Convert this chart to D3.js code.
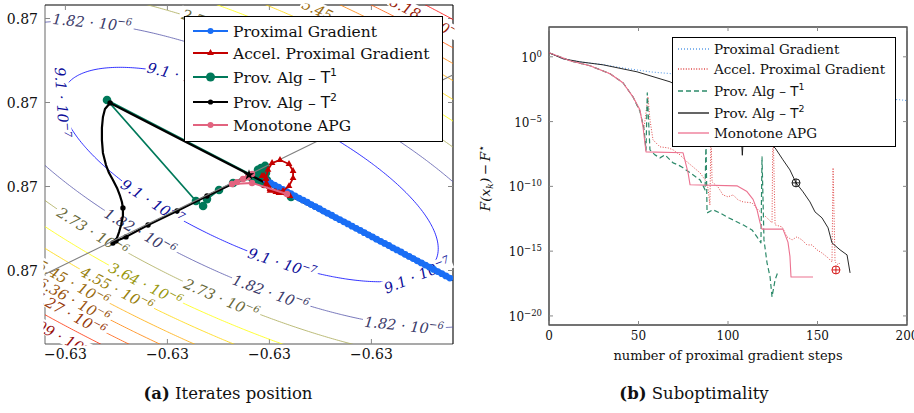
<!DOCTYPE html>
<html>
<head>
<meta charset="utf-8">
<script src="https://cdn.jsdelivr.net/npm/d3@7/dist/d3.min.js"></script>
<style>
  html,body{margin:0;padding:0;background:#fff;}
  text{font-family:"DejaVu Serif",serif;fill:#111;}
</style>
</head>
<body>
<svg id="chart" width="914" height="413" xmlns="http://www.w3.org/2000/svg"></svg>
<script>
// ================= DATA : panel (a) — coordinates are offsets in units of 1e-6 =================
const xBase = -0.6305, yBase = 0.87, unit = 1e-6;
const xTicksA = [10, 60, 110, 160];
const yTicksA = [35, 75, 115, 155];
const contourLevels = [9.1e-7, 1.82e-6, 2.73e-6, 3.64e-6, 4.55e-6, 5.45e-6, 6.36e-6, 7.27e-6, 8.18e-6, 9.09e-6];
// quadratic objective: centre, Hessian entries (a, b, c), minimum value
const objCenter = [100.5, 80.7];
const objHess = [1.966e-10, 2.456e-10, 6.421e-10];
const objMin = 3.6e-8;
// contour label anchors (level index, approx x, approx y)
const labelLevel = [0, 0, 0, 0, 0, 1, 1, 1, 1, 2, 2, 2, 3, 4, 5, 5, 6, 7, 8, 9];
const labelX = [65.2, 3.9, 50.5, 116.7, 185.8, 19.1, 46.6, 110.8, 180.4, 23.0, 86.3, 85.3, 48.5, 34.8, 8.3, 146.0, 7.4, 3.4, 190.5, 4.9];
const labelY = [130.5, 116.7, 67.1, 36.7, 30.5, 156.7, 53.3, 22.9, 4.3, 53.3, 21.0, 152.9, 27.6, 25.7, 25.7, 157.5, 16.2, 8.1, 158.0, 1.4];

// iterates
const grayX = [-5, 205], grayY = [30.9, 130.5];
const pgAX = [198.5,196.5,194.5,192.5,190.5,188.5,186.5,184.5,182.5,180.5,178.5,176.5,174.5,172.5,170.5,168.5,166.5,164.5,162.5,160.5,158.5,156.5,154.5,152.5,150.5,148.5,146.5,144.5,142.5,140.5,138.5,136.5,134.5,132.5,130.5,128.5,126.5,124.5,122.5,120.5,118.5,116.5,114.5,112.5,110.5,108.5];
const pgAY = [31.4,32.4,33.5,34.5,35.5,36.6,37.6,38.6,39.6,40.7,41.7,42.7,43.8,44.8,45.8,46.9,47.9,48.9,49.9,51.0,52.0,53.0,54.1,55.1,56.1,57.2,58.2,59.2,60.2,61.3,62.3,63.3,64.4,65.4,66.4,67.5,68.5,69.5,70.5,71.6,72.6,73.6,74.7,75.7,76.7,77.8];
const apgAX = [120.1,114.7,110.3,107.8,108.3,109.3,111.3,115.2,119.6,121.6,121.6,119.6,116.7,113.2,110.3,108.8,108.3,107.4,106.4];
const apgAY = [70.5,71.9,72.9,75.2,79.0,82.9,86.2,87.6,85.7,82.4,79.0,75.2,72.9,72.4,73.8,76.2,78.6,80.0,80.0];
const t1AX = [232.8,30.4,74.0,77.5,79.4,85.3,92.2,101.5,104.4,108.3,107.4,103.9,105.9,108.8,106.4,105.4,104.9,107.9,106.9,120.6];
const t1AY = [14.3,116.2,68.1,65.7,69.0,73.3,76.7,79.0,82.9,81.4,76.2,78.1,83.8,78.1,80.0,77.6,80.9,84.8,79.5,70.0];
const t2AX = [232.8,31.9,29.4,28.4,27.9,27.9,28.4,29.9,31.4,33.3,35.3,36.8,37.7,38.2,38.2,37.3,36.3,35.3,33.3,34.8,39.7,50.5,64.7,79.4,90.7,100.0];
const t2AY = [14.3,114.8,111.9,108.1,102.9,97.1,91.0,85.2,81.4,78.1,74.3,70.5,67.6,64.8,61.0,56.7,53.3,50.5,48.1,49.0,51.0,56.7,63.3,70.5,75.7,80.5];
const t2AMark = [0,1,0,0,0,0,0,0,0,0,0,0,0,1,0,0,0,0,1,1,1,1,1,1,0,0];
const mapgAX = [118.6,101.5,91.7,94.1,97.1,99.5,101.5];
const mapgAY = [71.4,76.7,76.2,77.1,78.6,79.5,81.0];
const optimumA = [100.0, 80.5];

// ================= DATA : panel (b) — y values are log10 of F(x_k) - F* =================
const xTicksB = [0, 50, 100, 150, 200];
const yTickExpB = [0, -5, -10, -15, -20];
const pgK = [0,3.9,7.8,17.3,30.2,40.8,56.4,68.7,112,157,196,205];
const pgV = [0.31,0.08,-0.15,-0.39,-0.6,-0.85,-1.16,-1.31,-2.2,-2.9,-3.32,-3.45];
const apgK = [0,6.1,11.7,22.9,34.1,41.3,46.9,50.8,53.1,55.3,56.4,58.1,62.0,66.5,69.3,73.2,77.1,80.4,84.4,87.2,88.8,89.9,90.5,91.1,94.4,97.2,100,102.8,105.6,108.4,113.4,116.8,121.8,124.6,125.1,126.3,130.2,133,135.8,138.5,141.3,144.1,146.9,149.7,152.5,155.9,158.1,158.7,159.8,161.5,162.5];
const apgV = [0.31,0,-0.31,-0.69,-1.31,-2.0,-3.09,-4.2,-5.5,-3.09,-4.86,-6.41,-6.95,-7.03,-7.18,-7.57,-8.11,-8.49,-8.96,-9.5,-10.12,-11.43,-5.64,-9.65,-10.04,-10.66,-10.81,-10.66,-11.04,-11.2,-11.27,-11.81,-12.43,-12.82,-4.86,-12.97,-13.13,-13.9,-14.13,-13.9,-14.13,-14.52,-14.52,-14.9,-15.14,-15.52,-15.83,-8.57,-15.83,-16.06,-15.9];
const t1K = [0,6.1,11.7,22.9,34.1,41.3,46.9,50.8,53.1,54.2,54.9,56.4,59.2,62.0,64.8,69.3,72.1,74.9,80.4,84.4,87.2,87.7,88.3,91.6,95.5,99.4,102.8,108.4,113.4,116.2,118.4,119.0,120.1,121.8,123.5,124.6,126.3,127.9];
const t1V = [0.31,0,-0.31,-0.69,-1.31,-2.0,-3.09,-4.2,-5.6,-7.2,-2.78,-7.18,-7.57,-7.8,-7.57,-8.19,-8.34,-8.57,-9.11,-9.5,-10.27,-6.41,-12.05,-11.81,-12.05,-12.36,-12.59,-12.97,-13.36,-13.9,-14.36,-7.72,-14.13,-15.9,-16.99,-18.53,-17.22,-16.6];
const t2K = [0,3.9,7.8,17.3,30.2,49.2,67.6,80,95,107,108,109,118,124,126.3,130.7,134.6,138.0,141.9,145.8,148.6,152.5,155.9,158.1,162.6,166.5,168.2];
const t2V = [0.31,0.08,-0.15,-0.39,-0.62,-1.16,-1.93,-2.8,-3.9,-5.0,-7.6,-5.2,-6.2,-6.8,-7.03,-7.95,-8.73,-9.73,-10.42,-11.2,-11.97,-12.43,-13.2,-14.36,-14.9,-15.29,-16.68];
const mapgK = [0,6.1,11.7,22.9,34.1,41.3,46.9,50.8,52.5,54.2,74.9,77.7,78.8,105,110.6,114,116.2,117.9,119,130.7,133.5,134.6,135.2,147.5];
const mapgV = [0.31,0,-0.31,-0.69,-1.31,-2.0,-3.09,-4.09,-5.4,-7.34,-7.41,-8.96,-9.88,-9.96,-10.4,-11.0,-11.8,-12.8,-13.3,-13.3,-14.3,-15.4,-17.0,-17.0];
const plusMarkK = [138.0, 160.3];
const plusMarkV = [-9.73, -16.45];

const seriesNames = ["Proximal Gradient", "Accel. Proximal Gradient", "Prov. Alg \u2013 ", "Prov. Alg \u2013 ", "Monotone APG"];

// ================= STYLE =================
const SERIF = "'DejaVu Serif', serif", SANS = "'DejaVu Sans', sans-serif";
const colA = {pg:"#1a6ef5", apg:"#c40000", t1:"#00795a", t2:"#000000", mapg:"#e2637f"};
const colB = {pg:"#5d9ee8", apg:"#e04a4a", t1:"#2d8a6a", t2:"#111111", mapg:"#ec7290"};
const hot = d3.scaleLinear().domain([0, 1/3, 2/3, 1]).range(["#0000ff", "#ffff00", "#ff8000", "#ff0000"]);
const levelColor = i => hot(i / (contourLevels.length - 1));
const labelColor = i => d3.interpolateRgb(levelColor(i), "#1a1a1a")(0.45);

const svg = d3.select("#chart");
const defs = svg.append("defs");
const zip = (a, b) => a.slice(0, Math.min(a.length, b.length)).map((v, i) => [v, b[i]]);
const txt = (sel) => sel.append("text").attr("font-family", SERIF);

// ================= PANEL (a) =================
const xA = d3.scaleLinear().domain([0, 200]).range([45, 453]);
const yA = d3.scaleLinear().domain([0, 161.43]).range([344, 5]);
const [ax0, ax1] = xA.range(), [ayB, ayT] = yA.range();
defs.append("clipPath").attr("id", "clipA").append("rect")
  .attr("x", ax0).attr("y", ayT).attr("width", ax1 - ax0).attr("height", ayB - ayT);
defs.append("clipPath").attr("id", "clipA2").append("rect")
  .attr("x", ax0 - 1.5).attr("y", ayT - 1.5).attr("width", ax1 - ax0 + 3).attr("height", ayB - ayT + 3);

const gA = svg.append("g");
gA.append("line").attr("x1", ax0).attr("x2", ax0).attr("y1", ayB).attr("y2", ayT).attr("stroke", "#808080").attr("stroke-width", 1.2);
gA.append("line").attr("x1", ax0).attr("x2", ax1).attr("y1", ayB).attr("y2", ayB).attr("stroke", "#555").attr("stroke-width", 1.2);
gA.append("line").attr("x1", ax0).attr("x2", ax1).attr("y1", ayT).attr("y2", ayT).attr("stroke", "#000").attr("stroke-width", 1.1);
gA.append("line").attr("x1", ax1).attr("x2", ax1).attr("y1", ayB).attr("y2", ayT).attr("stroke", "#000").attr("stroke-width", 1.1);
xTicksA.forEach(v => {
  gA.append("line").attr("x1", xA(v)).attr("x2", xA(v)).attr("y1", ayB).attr("y2", ayB - 5).attr("stroke", "#888");
  gA.append("line").attr("x1", xA(v)).attr("x2", xA(v)).attr("y1", ayT).attr("y2", ayT + 5).attr("stroke", "#888");
  txt(gA).attr("x", xA(v)).attr("y", 359).attr("text-anchor", "middle").attr("font-size", 14)
    .text(d3.format(".2f")(xBase + v * unit));
});
yTicksA.forEach(v => {
  gA.append("line").attr("x1", ax0).attr("x2", ax0 + 5).attr("y1", yA(v)).attr("y2", yA(v)).attr("stroke", "#888");
  gA.append("line").attr("x1", ax1).attr("x2", ax1 - 5).attr("y1", yA(v)).attr("y2", yA(v)).attr("stroke", "#888");
  txt(gA).attr("x", 38).attr("y", yA(v) + 5).attr("text-anchor", "end").attr("font-size", 14)
    .text(d3.format(".2f")(yBase + v * unit));
});

// contour field
function quadPart(u, v) { return objHess[0] * u * u + 2 * objHess[1] * u * v + objHess[2] * v * v; }
function fObj(x, y) { return objMin + quadPart(x - objCenter[0], y - objCenter[1]); }
function gradObj(x, y) {
  const u = x - objCenter[0], v = y - objCenter[1];
  return [2 * (objHess[0] * u + objHess[1] * v), 2 * (objHess[1] * u + objHess[2] * v)];
}
const gx0 = -30, gy0 = -30, gs = 1, nx = 261, ny = 221;
const grid = new Float64Array(nx * ny);
for (let j = 0; j < ny; j++) for (let i = 0; i < nx; i++) grid[j * nx + i] = fObj(gx0 + i * gs, gy0 + j * gs);
const contours = d3.contours().size([nx, ny]).thresholds(contourLevels)(grid);
const projA = d3.geoTransform({point(x, y) { this.stream.point(xA(gx0 + (x - 0.5) * gs), yA(gy0 + (y - 0.5) * gs)); }});
const pathA = d3.geoPath(projA);
gA.append("g").attr("clip-path", "url(#clipA)").selectAll("path").data(contours).join("path")
  .attr("d", pathA).attr("fill", "none").attr("stroke", (d, i) => levelColor(i)).attr("stroke-width", 0.8);

// contour labels (anchor moved radially from the centre onto its level curve)
const kx = xA(1) - xA(0), ky = yA(0) - yA(1);
const gLab = gA.append("g").attr("clip-path", "url(#clipA2)");
labelLevel.forEach((li, n) => {
  const L = contourLevels[li];
  const u0 = labelX[n] - objCenter[0], v0 = labelY[n] - objCenter[1];
  const s = Math.sqrt((L - objMin) / quadPart(u0, v0));
  const x = objCenter[0] + s * u0, y = objCenter[1] + s * v0;
  const [gx, gy] = gradObj(x, y);
  let a = Math.atan2(-gx * ky, -gy * kx) * 180 / Math.PI;
  while (a > 100) a -= 180;
  while (a <= -80) a += 180;
  const e = Math.floor(Math.log10(L) + 1e-9);
  const mant = parseFloat((L / Math.pow(10, e)).toFixed(2)).toString();
  const g = gLab.append("g").attr("transform", `translate(${xA(x)},${yA(y)}) rotate(${a})`);
  const t = txt(g).attr("text-anchor", "middle").attr("y", 5).attr("font-size", 14.5)
    .attr("font-style", "italic").style("fill", labelColor(li));
  t.append("tspan").text(mant + "\u2004\u00b7\u200410");
  t.append("tspan").attr("dy", -6).attr("font-size", 10).text("\u2212" + (-e));
  const bb = t.node().getBBox();
  g.insert("rect", "text").attr("x", bb.x - 1.5).attr("y", bb.y + 2).attr("width", bb.width + 3)
    .attr("height", bb.height - 4).attr("fill", "#fff");
});

// iterates
const gIt = gA.append("g").attr("clip-path", "url(#clipA)");
const lineA = d3.line().x(d => xA(d[0])).y(d => yA(d[1]));
const t1Pts = zip(t1AX, t1AY);
gIt.append("path").attr("d", lineA(t1Pts)).attr("fill", "none").attr("stroke", colA.t1).attr("stroke-width", 1.8).attr("stroke-linejoin", "round");
gIt.selectAll(".t1m").data(t1Pts).join("circle").attr("cx", d => xA(d[0])).attr("cy", d => yA(d[1])).attr("r", 4.3).attr("fill", colA.t1);
const t2Pts = zip(t2AX, t2AY);
gIt.append("path").attr("d", lineA(t2Pts)).attr("fill", "none").attr("stroke", colA.t2).attr("stroke-width", 2.2).attr("stroke-linejoin", "round");
gIt.selectAll(".t2m").data(t2Pts.filter((d, i) => t2AMark[i])).join("circle").attr("cx", d => xA(d[0])).attr("cy", d => yA(d[1])).attr("r", 2.7).attr("fill", colA.t2);
gIt.append("path").attr("d", lineA(zip(grayX, grayY))).attr("stroke", "#808080").attr("stroke-width", 1.1).attr("fill", "none");
const pgPts = zip(pgAX, pgAY);
gIt.append("path").attr("d", lineA(pgPts)).attr("fill", "none").attr("stroke", colA.pg).attr("stroke-width", 5.5).attr("stroke-linecap", "round");
gIt.selectAll(".pgm").data(pgPts).join("circle").attr("cx", d => xA(d[0])).attr("cy", d => yA(d[1])).attr("r", 3.4).attr("fill", colA.pg);
const apgPts = zip(apgAX, apgAY);
gIt.append("path").attr("d", lineA(apgPts)).attr("fill", "none").attr("stroke", colA.apg).attr("stroke-width", 1.8).attr("stroke-linejoin", "round");
const tri = d3.symbol(d3.symbolTriangle).size(20);
gIt.selectAll(".apgm").data(apgPts).join("path").attr("d", tri).attr("transform", d => `translate(${xA(d[0])},${yA(d[1])})`).attr("fill", colA.apg);
const mapgPts = zip(mapgAX, mapgAY);
gIt.append("path").attr("d", lineA(mapgPts)).attr("fill", "none").attr("stroke", colA.mapg).attr("stroke-width", 2).attr("stroke-linejoin", "round");
gIt.selectAll(".mapgm").data(mapgPts).join("circle").attr("cx", d => xA(d[0])).attr("cy", d => yA(d[1])).attr("r", 3.2).attr("fill", colA.mapg);
gIt.append("path").attr("d", d3.symbol(d3.symbolStar).size(36)).attr("transform", `translate(${xA(optimumA[0])},${yA(optimumA[1])})`).attr("fill", "#000");

// legend text helper
function addSeriesText(t, i, fs) {
  t.append("tspan").attr("font-family", SERIF).text(seriesNames[i]);
  if (i === 2 || i === 3) {
    t.append("tspan").attr("font-family", SANS).text("T");
    t.append("tspan").attr("dy", -fs * 0.42).attr("font-size", fs * 0.7).attr("font-family", SANS).text(i === 2 ? "1" : "2");
  }
}
const legA = svg.append("g");
legA.append("rect").attr("x", 184.5).attr("y", 16.5).attr("width", 258).attr("height", 125).attr("fill", "#fff").attr("stroke", "#000").attr("stroke-width", 1);
const legAy = [31, 53, 77, 102, 125];
const keys = ["pg", "apg", "t1", "t2", "mapg"];
keys.forEach((k, i) => {
  const y = legAy[i];
  legA.append("line").attr("x1", 193).attr("x2", 228).attr("y1", y).attr("y2", y).attr("stroke", colA[k]).attr("stroke-width", 2.2);
  if (k === "apg") legA.append("path").attr("d", tri).attr("transform", `translate(210.5,${y})`).attr("fill", colA[k]);
  else legA.append("circle").attr("cx", 210.5).attr("cy", y).attr("r", k === "t1" ? 4.5 : (k === "t2" ? 2.6 : 3)).attr("fill", colA[k]);
  const t = txt(legA).attr("x", 233).attr("y", y + 5.5).attr("font-size", 15.5);
  addSeriesText(t, i, 15.5);
});

// ================= PANEL (b) =================
const xB = d3.scaleLinear().domain([0, 200]).range([549, 907]);
const yB = d3.scaleLog().domain([Math.pow(10, -20.7), Math.pow(10, 2.3)]).range([325, 27]);
const [bx0, bx1] = xB.range(), [byB, byT] = yB.range();
defs.append("clipPath").attr("id", "clipB").append("rect")
  .attr("x", bx0).attr("y", byT).attr("width", bx1 - bx0).attr("height", byB - byT);
const gB = svg.append("g");
gB.append("rect").attr("x", bx0).attr("y", byT).attr("width", bx1 - bx0).attr("height", byB - byT).attr("fill", "none").attr("stroke", "#000").attr("stroke-width", 1.1);
xTicksB.forEach(v => {
  gB.append("line").attr("x1", xB(v)).attr("x2", xB(v)).attr("y1", byB).attr("y2", byB - 4).attr("stroke", "#888");
  gB.append("line").attr("x1", xB(v)).attr("x2", xB(v)).attr("y1", byT).attr("y2", byT + 4).attr("stroke", "#888");
  txt(gB).attr("x", xB(v)).attr("y", 340).attr("text-anchor", "middle").attr("font-size", 12).text(v);
});
yTickExpB.forEach(e => {
  const y = yB(Math.pow(10, e));
  gB.append("line").attr("x1", bx0).attr("x2", bx0 + 4).attr("y1", y).attr("y2", y).attr("stroke", "#888");
  gB.append("line").attr("x1", bx1).attr("x2", bx1 - 4).attr("y1", y).attr("y2", y).attr("stroke", "#888");
  const t = txt(gB).attr("x", 542).attr("y", y + 5).attr("text-anchor", "end").attr("font-size", 12);
  t.append("tspan").text("10");
  t.append("tspan").attr("dy", -5).attr("font-size", 8.5).text(e === 0 ? "0" : "\u2212" + (-e));
});
txt(gB).attr("x", 728).attr("y", 360).attr("text-anchor", "middle").attr("font-size", 13).text("number of proximal gradient steps");
{
  const t = txt(gB).attr("transform", "translate(490,178) rotate(-90)").attr("text-anchor", "middle").attr("font-size", 13.5).attr("font-style", "italic");
  t.append("tspan").text("F(x");
  t.append("tspan").attr("dy", 3).attr("font-size", 9.5).text("k");
  t.append("tspan").attr("dy", -3).text(")\u2009\u2212\u2009F");
  t.append("tspan").attr("dy", -5).attr("font-size", 11).attr("font-family", SANS).attr("font-style", "normal").text("\u22c6");
}
const gBs = gB.append("g").attr("clip-path", "url(#clipB)");
const lineB = d3.line().x(d => xB(d[0])).y(d => yB(Math.pow(10, d[1])));
const seriesB = [
  {k: pgK, v: pgV, c: colB.pg, dash: "1,2", w: 1.1},
  {k: apgK, v: apgV, c: colB.apg, dash: "1,1.6", w: 1.0},
  {k: t1K, v: t1V, c: colB.t1, dash: "5,3", w: 1.2},
  {k: t2K, v: t2V, c: colB.t2, dash: null, w: 0.9},
  {k: mapgK, v: mapgV, c: colB.mapg, dash: null, w: 1.1}
];
seriesB.forEach(s => {
  gBs.append("path").attr("d", lineB(zip(s.k, s.v))).attr("fill", "none").attr("stroke", s.c)
    .attr("stroke-width", s.w).attr("stroke-dasharray", s.dash).attr("stroke-linejoin", "round");
});
plusMarkK.forEach((k, i) => {
  const x = xB(k), y = yB(Math.pow(10, plusMarkV[i])), c = i === 0 ? "#000" : "#d00000";
  gBs.append("circle").attr("cx", x).attr("cy", y).attr("r", 4).attr("fill", "none").attr("stroke", c).attr("stroke-width", 0.9);
  gBs.append("path").attr("d", `M${x - 4},${y}H${x + 4}M${x},${y - 4}V${y + 4}`).attr("stroke", c).attr("stroke-width", 0.9);
});
const legB = svg.append("g");
legB.append("rect").attr("x", 672.5).attr("y", 37.5).attr("width", 223).attr("height", 109).attr("fill", "#fff").attr("stroke", "#000").attr("stroke-width", 1);
const legBy = [49, 69, 91, 113, 133];
seriesB.forEach((s, i) => {
  const y = legBy[i];
  legB.append("line").attr("x1", 678).attr("x2", 709).attr("y1", y).attr("y2", y).attr("stroke", s.c)
    .attr("stroke-width", 1.3).attr("stroke-dasharray", s.dash);
  const t = txt(legB).attr("x", 714).attr("y", y + 5).attr("font-size", 13.5);
  addSeriesText(t, i, 13.5);
});

// ================= captions =================
[["(a)", " Iterates position", 228], ["(b)", " Suboptimality", 694]].forEach(([b, r, cx]) => {
  const t = txt(svg).attr("x", cx).attr("y", 399).attr("text-anchor", "middle").attr("font-size", 16.5);
  t.append("tspan").attr("font-weight", "bold").text(b);
  t.append("tspan").text(r);
});
</script>
</body>
</html>
